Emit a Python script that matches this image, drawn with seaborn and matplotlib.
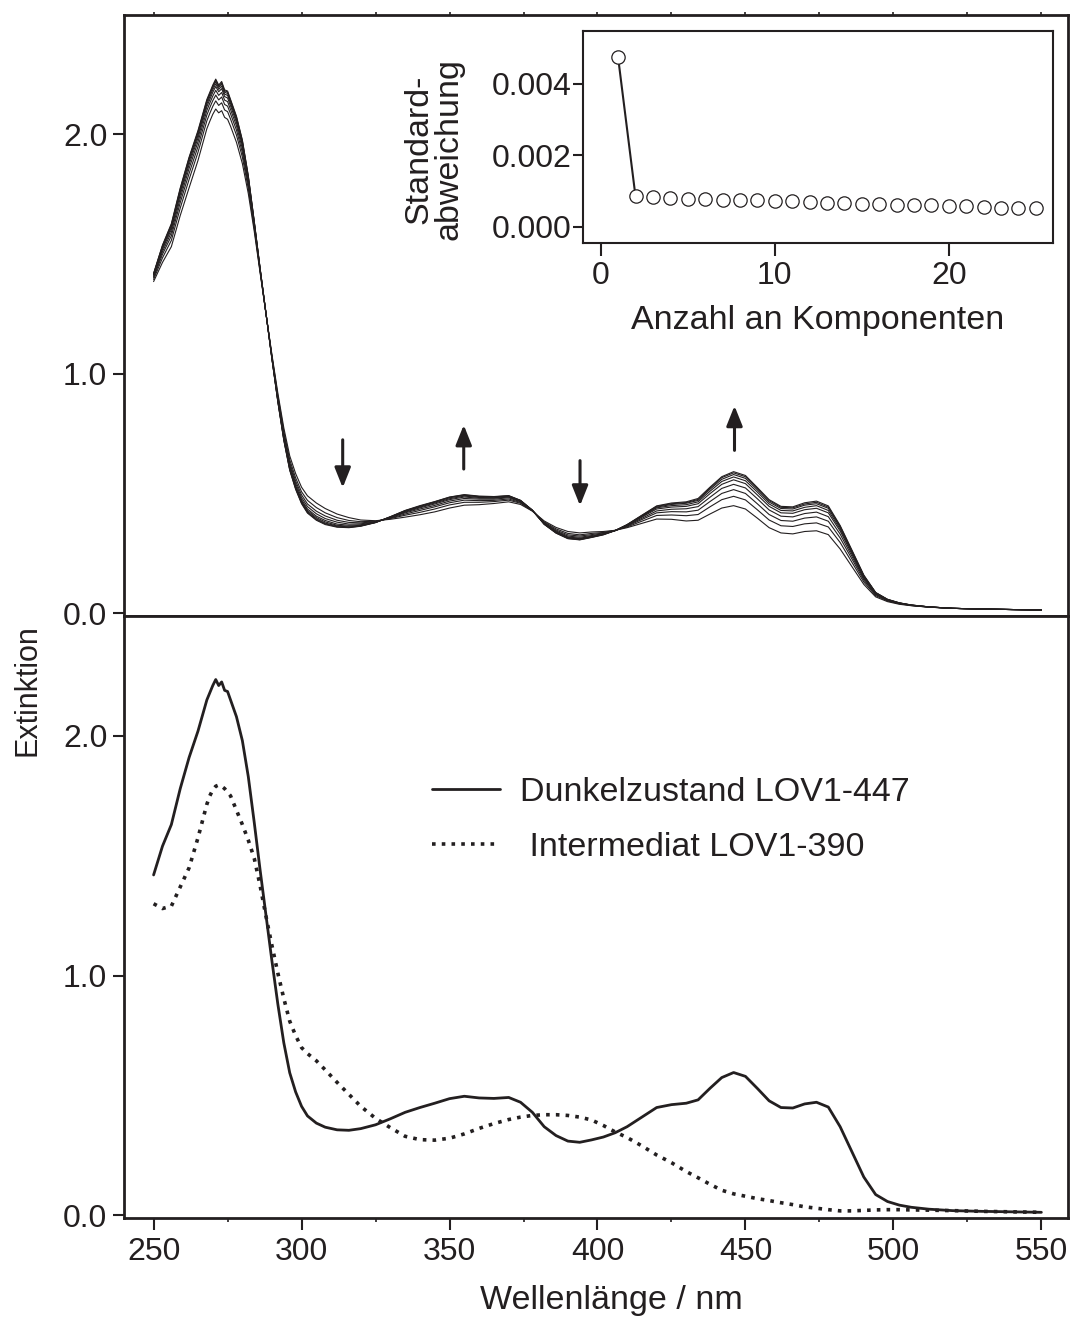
import matplotlib
matplotlib.use("Agg")
import matplotlib.pyplot as plt
from matplotlib.ticker import FixedLocator, FormatStrFormatter, MultipleLocator
import pandas as pd
import seaborn as sns

# ---------------------------------------------------------------- data
wavelength = [250, 253, 256, 259, 262, 265, 268, 269, 270, 271,
              272, 273, 274, 275, 276, 278, 280, 282, 284, 286,
              288, 290, 292, 294, 296, 298, 300, 302, 305, 308,
              312, 316, 320, 325, 330, 335, 340, 345, 350, 355,
              360, 365, 370, 374, 378, 382, 386, 390, 394, 398,
              402, 406, 410, 415, 420, 425, 430, 434, 438, 442,
              446, 450, 454, 458, 462, 466, 470, 474, 478, 482,
              486, 490, 494, 498, 502, 506, 512, 520, 530, 540,
              550]

# dark state LOV1-447
dark_state = [1.42, 1.54, 1.63, 1.78, 1.91, 2.02, 2.15, 2.18, 2.21, 2.235,
              2.21, 2.225, 2.19, 2.185, 2.15, 2.08, 1.98, 1.83, 1.64, 1.44,
              1.25, 1.06, 0.88, 0.72, 0.595, 0.515, 0.455, 0.415, 0.385, 0.368,
              0.357, 0.355, 0.362, 0.378, 0.403, 0.43, 0.45, 0.468, 0.487, 0.497,
              0.49, 0.488, 0.492, 0.472, 0.43, 0.37, 0.333, 0.31, 0.305, 0.315,
              0.327, 0.345, 0.37, 0.41, 0.45, 0.462, 0.468, 0.482, 0.53, 0.575,
              0.596, 0.58, 0.53, 0.478, 0.45, 0.448, 0.465, 0.472, 0.452, 0.37,
              0.265, 0.16, 0.087, 0.058, 0.043, 0.034, 0.026, 0.02, 0.017, 0.015,
              0.013]

# intermediate LOV1-390
intermediate = [1.30, 1.28, 1.29, 1.37, 1.45, 1.575, 1.715, 1.75, 1.775, 1.79,
                1.795, 1.79, 1.78, 1.765, 1.75, 1.69, 1.63, 1.565, 1.49, 1.375,
                1.246, 1.125, 1.01, 0.905, 0.81, 0.75, 0.70, 0.675, 0.645, 0.607,
                0.555, 0.505, 0.455, 0.405, 0.366, 0.33, 0.316, 0.314, 0.322, 0.34,
                0.363, 0.383, 0.40, 0.41, 0.417, 0.42, 0.42, 0.417, 0.41, 0.398,
                0.375, 0.348, 0.325, 0.29, 0.252, 0.22, 0.183, 0.157, 0.13, 0.105,
                0.09, 0.08, 0.07, 0.062, 0.053, 0.045, 0.036, 0.03, 0.024, 0.019,
                0.019, 0.021, 0.023, 0.024, 0.024, 0.023, 0.022, 0.02, 0.017, 0.015,
                0.013]

# spectra recorded during the thermal recovery (first -> last)
spec_1 = [1.385, 1.465, 1.531, 1.661, 1.777, 1.891, 2.024, 2.055, 2.084, 2.106,
          2.090, 2.099, 2.071, 2.063, 2.034, 1.967, 1.878, 1.753, 1.596, 1.421,
          1.249, 1.079, 0.918, 0.774, 0.657, 0.583, 0.526, 0.490, 0.460, 0.437,
          0.414, 0.399, 0.389, 0.386, 0.392, 0.401, 0.411, 0.423, 0.439, 0.451,
          0.453, 0.458, 0.465, 0.454, 0.426, 0.385, 0.358, 0.341, 0.335, 0.339,
          0.341, 0.346, 0.357, 0.375, 0.393, 0.392, 0.385, 0.388, 0.414, 0.439,
          0.449, 0.435, 0.397, 0.357, 0.335, 0.331, 0.341, 0.344, 0.328, 0.268,
          0.194, 0.120, 0.068, 0.048, 0.037, 0.031, 0.025, 0.020, 0.017, 0.015,
          0.013]
spec_2 = [1.394, 1.484, 1.557, 1.692, 1.812, 1.925, 2.057, 2.088, 2.117, 2.140,
          2.121, 2.132, 2.102, 2.095, 2.064, 1.997, 1.905, 1.773, 1.608, 1.426,
          1.249, 1.074, 0.908, 0.760, 0.641, 0.565, 0.507, 0.471, 0.441, 0.419,
          0.399, 0.387, 0.382, 0.384, 0.395, 0.409, 0.421, 0.435, 0.452, 0.463,
          0.463, 0.466, 0.472, 0.459, 0.427, 0.381, 0.352, 0.333, 0.327, 0.333,
          0.337, 0.346, 0.360, 0.384, 0.408, 0.410, 0.407, 0.412, 0.444, 0.474,
          0.488, 0.473, 0.432, 0.389, 0.365, 0.362, 0.373, 0.377, 0.360, 0.295,
          0.212, 0.130, 0.073, 0.051, 0.039, 0.032, 0.025, 0.020, 0.017, 0.015,
          0.013]
spec_3 = [1.401, 1.499, 1.576, 1.715, 1.837, 1.949, 2.081, 2.112, 2.141, 2.164,
          2.144, 2.156, 2.125, 2.118, 2.086, 2.018, 1.924, 1.788, 1.616, 1.430,
          1.249, 1.070, 0.901, 0.749, 0.629, 0.552, 0.494, 0.456, 0.426, 0.406,
          0.388, 0.379, 0.377, 0.382, 0.397, 0.414, 0.429, 0.444, 0.461, 0.472,
          0.470, 0.471, 0.477, 0.462, 0.428, 0.378, 0.347, 0.327, 0.322, 0.328,
          0.335, 0.345, 0.363, 0.391, 0.419, 0.424, 0.423, 0.430, 0.466, 0.500,
          0.516, 0.500, 0.457, 0.412, 0.387, 0.384, 0.397, 0.402, 0.384, 0.314,
          0.226, 0.138, 0.077, 0.053, 0.040, 0.032, 0.025, 0.020, 0.017, 0.015,
          0.013]
spec_4 = [1.406, 1.510, 1.591, 1.733, 1.858, 1.969, 2.100, 2.131, 2.160, 2.184,
          2.163, 2.175, 2.143, 2.137, 2.104, 2.036, 1.940, 1.800, 1.623, 1.433,
          1.250, 1.067, 0.895, 0.741, 0.620, 0.542, 0.483, 0.445, 0.415, 0.395,
          0.380, 0.372, 0.373, 0.381, 0.399, 0.419, 0.435, 0.450, 0.468, 0.479,
          0.476, 0.476, 0.482, 0.465, 0.429, 0.376, 0.343, 0.322, 0.317, 0.324,
          0.332, 0.345, 0.365, 0.396, 0.427, 0.434, 0.436, 0.445, 0.484, 0.521,
          0.538, 0.523, 0.478, 0.431, 0.405, 0.402, 0.416, 0.422, 0.403, 0.330,
          0.237, 0.144, 0.080, 0.054, 0.041, 0.033, 0.026, 0.020, 0.017, 0.015,
          0.013]
spec_5 = [1.411, 1.520, 1.603, 1.748, 1.874, 1.985, 2.116, 2.146, 2.176, 2.200,
          2.178, 2.191, 2.158, 2.152, 2.119, 2.050, 1.953, 1.809, 1.628, 1.435,
          1.250, 1.065, 0.890, 0.734, 0.612, 0.533, 0.474, 0.435, 0.405, 0.387,
          0.372, 0.367, 0.369, 0.380, 0.400, 0.422, 0.440, 0.456, 0.474, 0.485,
          0.480, 0.480, 0.485, 0.467, 0.429, 0.374, 0.340, 0.318, 0.313, 0.321,
          0.331, 0.345, 0.366, 0.401, 0.435, 0.443, 0.446, 0.457, 0.499, 0.538,
          0.557, 0.541, 0.494, 0.446, 0.419, 0.417, 0.432, 0.438, 0.419, 0.343,
          0.246, 0.149, 0.082, 0.055, 0.042, 0.033, 0.026, 0.020, 0.017, 0.015,
          0.013]
spec_6 = [1.414, 1.526, 1.612, 1.758, 1.886, 1.996, 2.127, 2.157, 2.187, 2.211,
          2.188, 2.202, 2.168, 2.163, 2.129, 2.059, 1.961, 1.816, 1.632, 1.437,
          1.250, 1.063, 0.887, 0.730, 0.606, 0.527, 0.468, 0.429, 0.399, 0.381,
          0.367, 0.363, 0.367, 0.379, 0.401, 0.425, 0.443, 0.460, 0.478, 0.489,
          0.483, 0.482, 0.487, 0.469, 0.429, 0.373, 0.338, 0.316, 0.311, 0.319,
          0.330, 0.345, 0.368, 0.404, 0.440, 0.449, 0.453, 0.465, 0.509, 0.550,
          0.569, 0.553, 0.506, 0.456, 0.429, 0.427, 0.442, 0.449, 0.429, 0.351,
          0.252, 0.153, 0.084, 0.056, 0.042, 0.033, 0.026, 0.020, 0.017, 0.015,
          0.013]
spec_7 = [1.416, 1.531, 1.619, 1.766, 1.895, 2.005, 2.136, 2.166, 2.196, 2.220,
          2.196, 2.211, 2.176, 2.171, 2.137, 2.067, 1.968, 1.821, 1.635, 1.438,
          1.250, 1.062, 0.884, 0.726, 0.602, 0.523, 0.463, 0.424, 0.394, 0.376,
          0.364, 0.360, 0.365, 0.379, 0.402, 0.427, 0.446, 0.463, 0.482, 0.492,
          0.486, 0.485, 0.489, 0.470, 0.430, 0.372, 0.336, 0.314, 0.308, 0.318,
          0.329, 0.345, 0.369, 0.406, 0.443, 0.454, 0.459, 0.471, 0.517, 0.559,
          0.579, 0.563, 0.515, 0.464, 0.437, 0.435, 0.451, 0.457, 0.438, 0.358,
          0.257, 0.155, 0.085, 0.057, 0.042, 0.034, 0.026, 0.020, 0.017, 0.015,
          0.013]
spec_8 = [1.418, 1.535, 1.623, 1.772, 1.901, 2.011, 2.141, 2.171, 2.201, 2.226,
          2.202, 2.216, 2.182, 2.177, 2.142, 2.072, 1.973, 1.825, 1.637, 1.439,
          1.250, 1.061, 0.883, 0.724, 0.599, 0.520, 0.460, 0.420, 0.390, 0.373,
          0.361, 0.358, 0.364, 0.379, 0.402, 0.428, 0.447, 0.465, 0.484, 0.494,
          0.487, 0.486, 0.490, 0.471, 0.430, 0.371, 0.335, 0.312, 0.307, 0.317,
          0.328, 0.345, 0.369, 0.408, 0.446, 0.457, 0.462, 0.475, 0.522, 0.566,
          0.586, 0.570, 0.521, 0.470, 0.442, 0.440, 0.456, 0.463, 0.443, 0.363,
          0.260, 0.157, 0.086, 0.057, 0.043, 0.034, 0.026, 0.020, 0.017, 0.015,
          0.013]
spec_9 = [1.419, 1.537, 1.627, 1.776, 1.905, 2.016, 2.146, 2.176, 2.206, 2.231,
          2.206, 2.221, 2.186, 2.181, 2.146, 2.076, 1.976, 1.827, 1.638, 1.439,
          1.250, 1.061, 0.881, 0.722, 0.597, 0.517, 0.457, 0.418, 0.388, 0.370,
          0.359, 0.357, 0.363, 0.378, 0.403, 0.429, 0.449, 0.466, 0.485, 0.495,
          0.489, 0.487, 0.491, 0.471, 0.430, 0.371, 0.334, 0.311, 0.306, 0.316,
          0.327, 0.345, 0.370, 0.409, 0.448, 0.460, 0.465, 0.479, 0.526, 0.570,
          0.591, 0.575, 0.525, 0.474, 0.446, 0.444, 0.461, 0.468, 0.448, 0.366,
          0.263, 0.159, 0.086, 0.058, 0.043, 0.034, 0.026, 0.020, 0.017, 0.015,
          0.013]

# singular value analysis: standard deviation vs. number of components
components = list(range(1, 26))
std_dev = [0.00473, 0.00084, 0.00082, 0.00079, 0.00077, 0.00076, 0.00074, 0.00073, 0.00073,
           0.00071, 0.00070, 0.00068, 0.00067, 0.00065, 0.00064, 0.00062, 0.00060, 0.00060,
           0.00059, 0.00057, 0.00056, 0.00054, 0.00053, 0.00052, 0.00051]

dark_label = "Dunkelzustand LOV1-447"
inter_label = " Intermediat LOV1-390"

# ---------------------------------------------------------------- style
INK = "#231f20"
TICK_FS = 23
LABEL_FS = 24.5
sns.set_theme(style="ticks")
plt.rcParams["font.family"] = ["Liberation Sans", "DejaVu Sans"]
plt.rcParams.update({
    "font.size": TICK_FS,
    "text.color": INK,
    "axes.edgecolor": INK,
    "axes.labelcolor": INK,
    "xtick.color": INK,
    "ytick.color": INK,
})

fig = plt.figure(figsize=(10.74, 13.17), dpi=100)
ax_top = fig.add_axes([0.11546, 0.53227, 0.87896, 0.45657])
ax_bot = fig.add_axes([0.11546, 0.07494, 0.87896, 0.45733])
inset = fig.add_axes([0.5431, 0.81526, 0.4376, 0.1612])

# ---------------------------------------------------------------- top: spectral series
series = [spec_1, spec_2, spec_3, spec_4, spec_5, spec_6, spec_7, spec_8, spec_9]
df_top = pd.concat(
    [pd.DataFrame({"wavelength": wavelength, "absorbance": s, "spectrum": i})
     for i, s in enumerate(series)],
    ignore_index=True,
)
sns.lineplot(data=df_top, x="wavelength", y="absorbance", units="spectrum",
             estimator=None, sort=False, color=INK, linewidth=0.8,
             legend=False, ax=ax_top)

arrow_kw = dict(arrowstyle="-|>,head_length=0.55,head_width=0.22",
                color=INK, lw=2.2, mutation_scale=22, shrinkA=0, shrinkB=0)
for x, y0, y1 in [(313.9, 0.724, 0.524), (354.8, 0.602, 0.786),
                  (394.1, 0.637, 0.449), (446.3, 0.680, 0.866)]:
    ax_top.annotate("", xy=(x, y1), xytext=(x, y0), arrowprops=arrow_kw)

# ---------------------------------------------------------------- bottom: pure spectra
df_bot = pd.DataFrame({"wavelength": wavelength, "dark": dark_state, "inter": intermediate})
sns.lineplot(data=df_bot, x="wavelength", y="dark", color=INK, linewidth=2.0,
             label=dark_label, ax=ax_bot)
sns.lineplot(data=df_bot, x="wavelength", y="inter", color=INK, linewidth=2.6,
             linestyle=(0, (1, 1.7)), label=inter_label, ax=ax_bot)
leg = ax_bot.legend(loc="upper left", bbox_to_anchor=(0.326, 0.733), frameon=False,
                    borderpad=0, borderaxespad=0, handlelength=2.0, handletextpad=0.58,
                    labelspacing=0.7, fontsize=LABEL_FS)
for t in leg.get_texts():
    t.set_color(INK)

# ---------------------------------------------------------------- main axes formatting
for ax in (ax_top, ax_bot):
    ax.set_xlim(240, 559)
    ax.set_ylim(-0.012, 2.5)
    ax.set_xlabel("")
    ax.set_ylabel("")
    ax.yaxis.set_major_locator(FixedLocator([0.0, 1.0, 2.0]))
    ax.yaxis.set_major_formatter(FormatStrFormatter("%.1f"))
    ax.tick_params(axis="y", which="major", direction="out", length=8, width=1.5,
                   pad=4, labelsize=TICK_FS, left=True, right=False)
    for sp in ax.spines.values():
        sp.set_visible(True)
        sp.set_linewidth(2.0)
        sp.set_color(INK)

ax_top.xaxis.set_major_locator(MultipleLocator(25))
ax_top.tick_params(axis="x", which="both", top=True, bottom=False,
                   labeltop=False, labelbottom=False, direction="out",
                   length=2.5, width=1.2)

ax_bot.xaxis.set_major_locator(MultipleLocator(50))
ax_bot.xaxis.set_minor_locator(MultipleLocator(25))
ax_bot.xaxis.set_major_formatter(FormatStrFormatter("%d"))
ax_bot.tick_params(axis="x", which="major", direction="out", length=8.5, width=1.5,
                   pad=5, labelsize=TICK_FS, top=False, bottom=True)
ax_bot.tick_params(axis="x", which="minor", direction="out", length=3, width=1.2,
                   top=False, bottom=True)

fig.text(611 / 1074, 1 - 1300 / 1317, "Wellenlänge / nm", ha="center", va="center",
         fontsize=LABEL_FS, color=INK)
fig.text(28 / 1074, 1 - 690 / 1317, "Extinktion", ha="center", va="center",
         rotation=90, fontsize=22, color=INK)

# ---------------------------------------------------------------- inset
df_inset = pd.DataFrame({"n": components, "sd": std_dev})
sns.lineplot(data=df_inset.iloc[:2], x="n", y="sd", color=INK, linewidth=1.5, ax=inset)
sns.scatterplot(data=df_inset, x="n", y="sd", marker="o", s=92, facecolor="white",
                edgecolor=INK, linewidth=0.9, zorder=3, ax=inset)
inset.set_xlim(-1, 26)
inset.set_ylim(-0.00047, 0.00547)
inset.set_xlabel("")
inset.set_ylabel("")
inset.xaxis.set_major_locator(FixedLocator([0, 10, 20]))
inset.xaxis.set_major_formatter(FormatStrFormatter("%d"))
inset.yaxis.set_major_locator(FixedLocator([0.0, 0.002, 0.004]))
inset.yaxis.set_major_formatter(FormatStrFormatter("%.3f"))
inset.tick_params(axis="x", direction="out", length=9, width=1.5, pad=4, labelsize=TICK_FS)
inset.tick_params(axis="y", direction="out", length=7, width=1.5, pad=1.5, labelsize=TICK_FS)
for sp in inset.spines.values():
    sp.set_visible(True)
    sp.set_linewidth(1.5)
    sp.set_color(INK)

fig.text(818 / 1074, 1 - 320 / 1317, "Anzahl an Komponenten", ha="center", va="center",
         fontsize=LABEL_FS, color=INK)
fig.text(434 / 1074, 1 - 149 / 1317, "Standard-\nabweichung", ha="center", va="center",
         rotation=90, multialignment="center", linespacing=1.0, fontsize=LABEL_FS,
         color=INK)

fig.savefig("out.png", dpi=100)
